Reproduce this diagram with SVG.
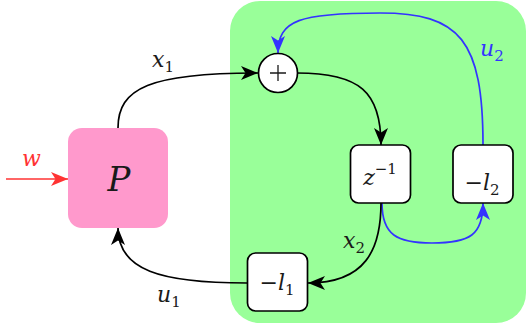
<svg xmlns="http://www.w3.org/2000/svg" width="527" height="331" viewBox="0 0 527 331" font-family="DejaVu Serif, serif">
<defs>
<style>
.i{font-style:italic}
.s{font-size:15px;font-style:normal}
.blk{fill:none;stroke:#000;stroke-width:1.7}
.blu{fill:none;stroke:#3333ff;stroke-width:1.7}
.red{fill:none;stroke:#ff3333;stroke-width:1.7}
.box{fill:#fff;stroke:#000;stroke-width:1.7}
</style>
<marker id="ak" markerUnits="userSpaceOnUse" markerWidth="20" markerHeight="16" viewBox="-17 -8 20 16" refX="0" refY="0" orient="auto"><path d="M0,0 L-17,-7 L-12.5,0 L-17,7 Z" fill="#000"/></marker>
<marker id="ab" markerUnits="userSpaceOnUse" markerWidth="20" markerHeight="16" viewBox="-17 -8 20 16" refX="0" refY="0" orient="auto"><path d="M0,0 L-17,-7 L-12.5,0 L-17,7 Z" fill="#3333ff"/></marker>
<marker id="ar" markerUnits="userSpaceOnUse" markerWidth="20" markerHeight="16" viewBox="-17 -8 20 16" refX="0" refY="0" orient="auto"><path d="M0,0 L-17,-7 L-12.5,0 L-17,7 Z" fill="#ff3333"/></marker>
</defs>
<rect id="region" x="230" y="1" width="296" height="322" rx="30" fill="#99ff99"/>
<g id="connectors">
<path class="red" d="M6,179 L68,179" marker-end="url(#ar)"/>
<path class="blk" d="M118,128 C118,88 150,73 258,73" marker-end="url(#ak)"/>
<path class="blk" d="M297,73 C360,73 381,92 381,145" marker-end="url(#ak)"/>
<path class="blu" d="M483,145 C483,40 460,13 380,13 C300,13 278,20 278,53" marker-end="url(#ab)"/>
<path class="blu" d="M382,203 C382,235 397,243 432,243 C470,243 483,235 483,203" marker-end="url(#ab)"/>
<path class="blk" d="M381,203 C381,250 365,283 308,283" marker-end="url(#ak)"/>
<path class="blk" d="M247,283 C160,283 118,270 118,228" marker-end="url(#ak)"/>
</g>
<g font-size="22" fill="#1a1a1a">
<g id="P"><rect x="68" y="128" width="100" height="100" rx="14" fill="#ff99cc"/><text class="i" x="119" y="191" font-size="34" text-anchor="middle">P</text></g>
<g id="sum"><circle class="box" cx="278" cy="73" r="19.5"/><path d="M270,73 H286 M278,65 V81" stroke="#1a1a1a" stroke-width="1.3"/></g>
<g id="zinv"><rect class="box" x="350.5" y="145" width="60" height="58" rx="8"/><text x="380" y="185" text-anchor="middle"><tspan class="i">z</tspan><tspan class="s" dy="-11">−1</tspan></text></g>
<g id="l2"><rect class="box" x="453" y="145" width="60" height="58" rx="8"/><text x="482" y="190" text-anchor="middle">−<tspan class="i">l</tspan><tspan class="s" dy="5">2</tspan></text></g>
<g id="l1"><rect class="box" x="247.5" y="253" width="60" height="58" rx="8"/><text x="277" y="290" text-anchor="middle">−<tspan class="i">l</tspan><tspan class="s" dy="5">1</tspan></text></g>
<g id="labels">
<text class="i" x="22" y="166" fill="#ff3333">w</text>
<text class="i" x="152" y="67">x<tspan class="s" dy="5">1</tspan></text>
<text class="i" x="343" y="248">x<tspan class="s" dy="5">2</tspan></text>
<text class="i" x="157" y="302">u<tspan class="s" dy="5">1</tspan></text>
<text class="i" x="480" y="56" fill="#3333ff">u<tspan class="s" dy="5">2</tspan></text>
</g>
</g>
</svg>
